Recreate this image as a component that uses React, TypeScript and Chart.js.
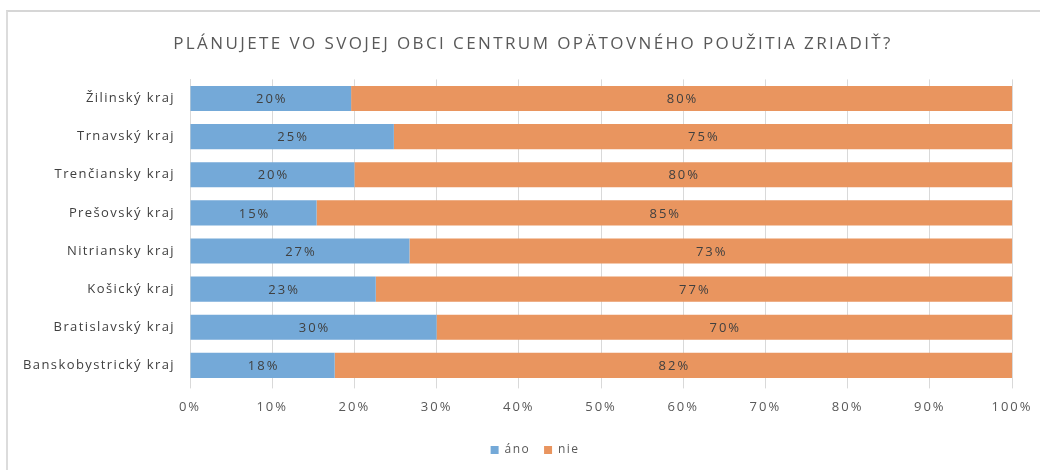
import React, { useEffect, useRef } from "react";
import { Chart, registerables } from "chart.js";

Chart.register(...registerables);

const title = "PLÁNUJETE VO SVOJEJ OBCI CENTRUM OPÄTOVNÉHO POUŽITIA ZRIADIŤ?";
const categories = [
  "Žilinský kraj",
  "Trnavský kraj",
  "Trenčiansky kraj",
  "Prešovský kraj",
  "Nitriansky kraj",
  "Košický kraj",
  "Bratislavský kraj",
  "Banskobystrický kraj",
];
const anoValues = [19.6, 24.8, 20, 15.4, 26.7, 22.6, 30, 17.6];
const nieValues = [80.4, 75.2, 80, 84.6, 73.3, 77.4, 70, 82.4];
const seriesNames = ["áno", "nie"];
const colors = ["#74a9d8", "#e9955f"];

const FONT = "'Open Sans', 'Liberation Sans', sans-serif";

function withSpacing(chart: any, sp: string, fn: () => void) {
  const c = chart.ctx;
  const prev = c.letterSpacing;
  c.letterSpacing = sp;
  fn();
  c.letterSpacing = prev;
}

const spacingPlugin = {
  id: "spacing",
  beforeLayout(chart: any) {
    chart.ctx.letterSpacing = "1.4px";
  },
  afterLayout(chart: any) {
    if (chart.legend) {
      chart.legend.left += 29;
      chart.legend.right += 29;
    }
    if (chart.titleBlock) {
      chart.titleBlock.left += 27;
      chart.titleBlock.right += 27;
    }
  },
  beforeDraw(chart: any) {
    chart.ctx.letterSpacing = "1.4px";
    const tb = chart.titleBlock;
    if (tb && !tb.__wrapped) {
      const orig = tb.draw.bind(tb);
      tb.draw = (...a: any[]) => withSpacing(chart, "2.4px", () => orig(...a));
      tb.__wrapped = true;
    }
    const sx = chart.scales.x;
    if (sx && !sx.__wrapped) {
      const orig = sx.drawLabels.bind(sx);
      sx.drawLabels = (...a: any[]) => withSpacing(chart, "2px", () => orig(...a));
      sx.__wrapped = true;
    }
  },
};

const dataLabelPlugin = {
  id: "dataLabels",
  afterDatasetsDraw(chart: any) {
    const ctx = chart.ctx;
    ctx.save();
    ctx.letterSpacing = "2px";
    ctx.font = `13px ${FONT}`;
    ctx.fillStyle = "#404040";
    ctx.textAlign = "center";
    ctx.textBaseline = "middle";
    chart.data.datasets.forEach((ds: any, di: number) => {
      const meta = chart.getDatasetMeta(di);
      meta.data.forEach((el: any, i: number) => {
        const v = ds.data[i];
        const cx = (el.x + el.base) / 2;
        ctx.fillText(Math.round(v) + "%", cx + 1, el.y + 1);
      });
    });
    ctx.restore();
  },
};

export default function App() {
  const ref = useRef<HTMLCanvasElement>(null);
  useEffect(() => {
    document.body.style.margin = "0";
    const chart = new Chart(ref.current!, {
      type: "bar",
      data: {
        labels: categories,
        datasets: [
          { label: seriesNames[0], data: anoValues, backgroundColor: colors[0] },
          { label: seriesNames[1], data: nieValues, backgroundColor: colors[1] },
        ],
      },
      options: {
        indexAxis: "y",
        animation: false,
        responsive: false,
        maintainAspectRatio: false,
        datasets: { bar: { barPercentage: 1, categoryPercentage: 0.66 } },
        layout: { padding: { left: 0, right: 28, top: 0, bottom: 4 } },
        scales: {
          x: {
            stacked: true,
            min: 0,
            max: 100,
            ticks: {
              stepSize: 10,
              callback: (v: any) => v + "%",
              font: { family: FONT, size: 13 },
              color: "#595959",
              padding: 11,
            },
            grid: { color: "#d9d9d9", drawTicks: true, tickLength: 4 },
            border: { display: false },
            afterFit: (s: any) => {
              s.height += 4;
              s.paddingRight = 0;
              s.paddingLeft = 0;
            },
          },
          y: {
            stacked: true,
            ticks: {
              font: { family: FONT, size: 13 },
              color: "#404040",
              padding: 7,
            },
            grid: { display: false },
            border: { display: true, color: "#d9d9d9" },
            afterFit: (s: any) => {
              s.width = 190;
            },
          },
        },
        plugins: {
          title: {
            display: true,
            text: title,
            color: "#595959",
            font: { family: FONT, size: 17, weight: "normal" },
            padding: { top: 34, bottom: 25 },
          },
          legend: {
            position: "bottom",
            labels: {
              boxWidth: 8,
              boxHeight: 8,
              font: { family: FONT, size: 12 },
              color: "#595959",
              padding: 14,
            },
          },
          tooltip: { enabled: false },
        },
      },
      plugins: [spacingPlugin, dataLabelPlugin],
    });
    return () => chart.destroy();
  }, []);
  return (
    <div style={{ position: "relative", width: 1040, height: 470, background: "#fff", overflow: "hidden" }}>
      <div
        style={{
          position: "absolute",
          left: 6,
          top: 10,
          width: 1100,
          height: 500,
          borderTop: "2px solid #d6d6d6",
          borderLeft: "2px solid #dcdcdc",
          background: "#fff",
        }}
      />
      <canvas ref={ref} width={1040} height={470} style={{ position: "absolute", left: 0, top: 0 }} />
    </div>
  );
}
